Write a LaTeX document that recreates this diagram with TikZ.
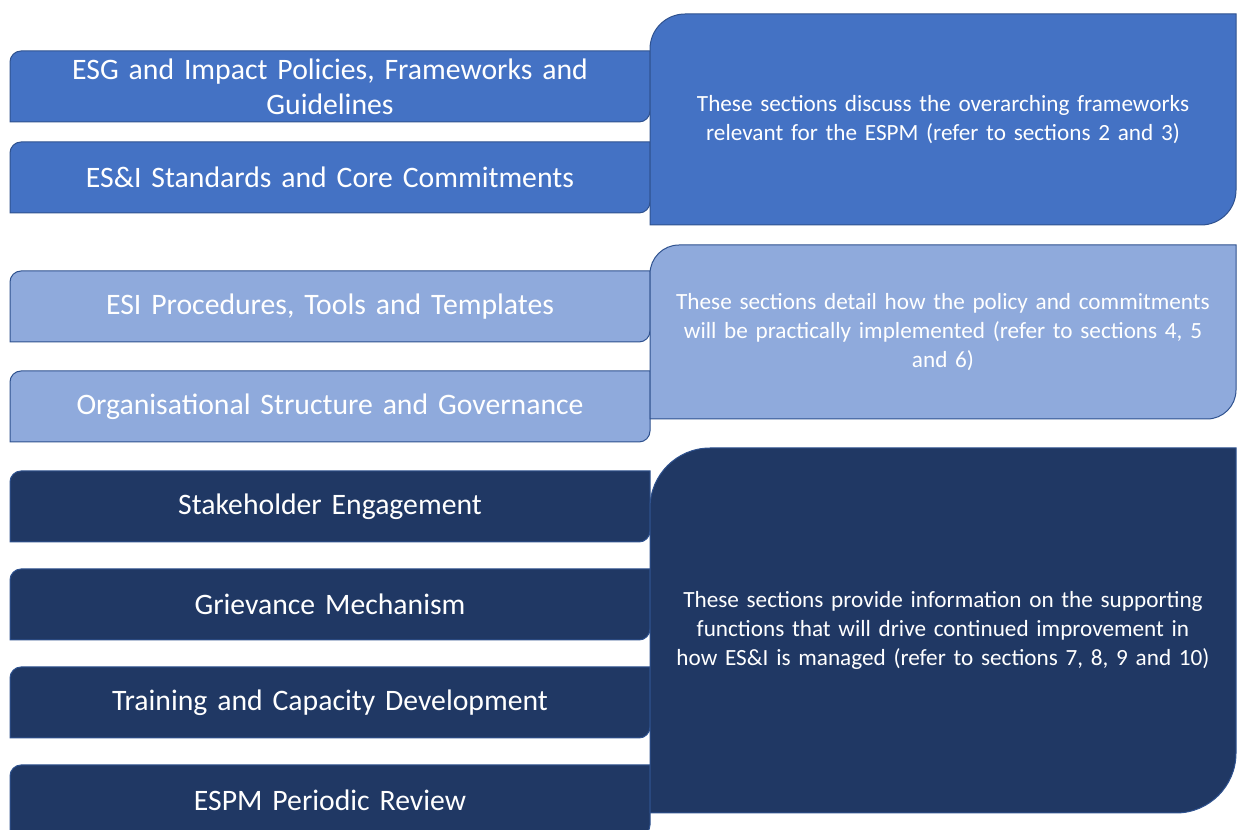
\documentclass[tikz,border=0pt]{standalone}
\usepackage{fontspec}
\setmainfont{Carlito}
\usetikzlibrary{positioning,backgrounds}
\definecolor{midblue}{HTML}{4472C4}
\definecolor{lightblue}{HTML}{8FAADC}
\definecolor{navy}{HTML}{203864}
\definecolor{edge}{HTML}{2F528F}

\tikzset{
  bar/.style={minimum width=640pt,minimum height=71pt,text width=620pt,align=center,
    inner sep=0pt,outer sep=0pt,text=white,font=\fontsize{29.7}{35}\selectfont},
  note/.style={minimum width=586pt,text width=570pt,align=center,
    inner sep=0pt,outer sep=0pt,text=white,font=\fontsize{23.2}{29}\selectfont}
}

% rectangle with rounded top-left and bottom-right corners, behind node #1
\newcommand\diagrect[3]{%
  \filldraw[draw=edge,line width=1pt,fill=#3]
    ([yshift=-#2]#1.north west) arc[start angle=180,end angle=90,radius=#2]
    -- (#1.north east) -- ([yshift=#2]#1.south east)
    arc[start angle=0,end angle=-90,radius=#2]
    -- (#1.south west) -- cycle;}

\begin{document}
\begin{tikzpicture}[x=1pt,y=1pt]
\useasboundingbox (0,0) rectangle (1237,830);

% left column
\node[bar] (esg) at (330,743.5) {ESG and Impact Policies, Frameworks and\\Guidelines};
\node[bar,below=20pt of esg] (stds) {ES\&I Standards and Core Commitments};
\node[bar,below=58pt of stds] (proc) {ESI Procedures, Tools and Templates};
\node[bar,below=29pt of proc] (org) {Organisational Structure and Governance};
\node[bar,below=29pt of org] (stake) {Stakeholder Engagement};
\node[bar,below=27pt of stake] (griev) {Grievance Mechanism};
\node[bar,below=27pt of griev] (train) {Training and Capacity Development};
\node[bar,below=27pt of train] (review) {ESPM Periodic Review};

% right column
\node[note,minimum height=211pt] (fwk) at (943,710.5)
  {These sections discuss the overarching frameworks\\relevant for the ESPM (refer to sections 2 and 3)};
\node[note,minimum height=174pt] (impl) at (943,498)
  {These sections detail how the policy and commitments\\will be practically implemented (refer to sections 4, 5\\and 6)};
\node[note,minimum height=365pt] (supp) at (943,199.5)
  {These sections provide information on the supporting\\functions that will drive continued improvement in\\how ES\&I is managed (refer to sections 7, 8, 9 and 10)};

\begin{pgfonlayer}{background}
\diagrect{esg}{11pt}{midblue}
\diagrect{stds}{11pt}{midblue}
\diagrect{proc}{11pt}{lightblue}
\diagrect{org}{11pt}{lightblue}
\foreach \n in {stake,griev,train,review}
  \diagrect{\n}{11pt}{navy};
\diagrect{fwk}{35pt}{midblue}
\diagrect{impl}{29pt}{lightblue}
\diagrect{supp}{60pt}{navy}
\end{pgfonlayer}
\end{tikzpicture}
\end{document}
